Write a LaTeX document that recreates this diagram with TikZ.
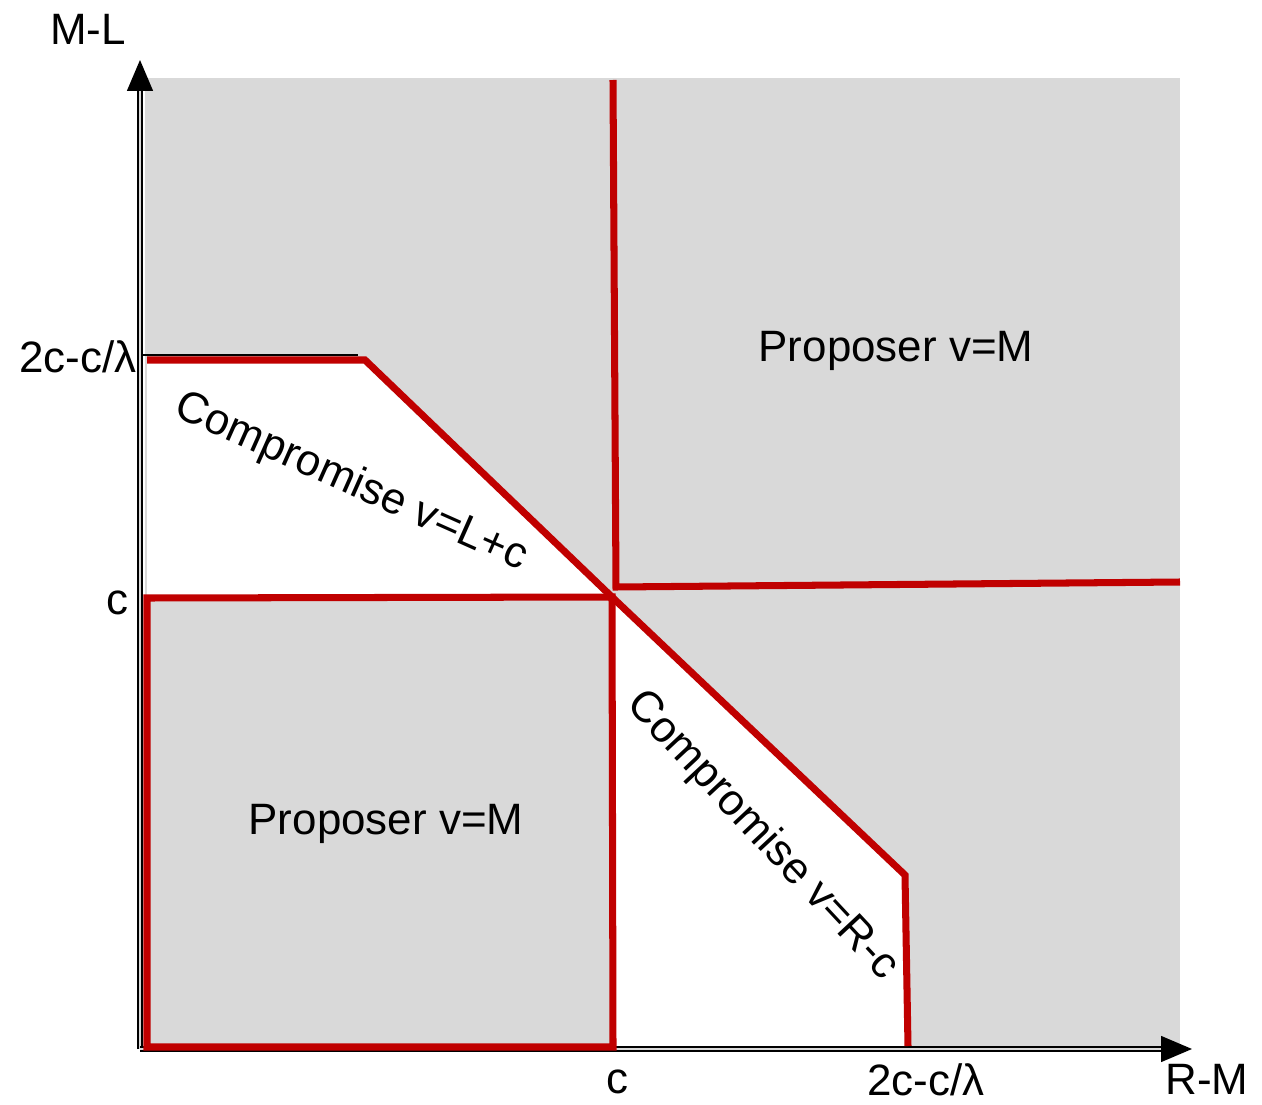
\documentclass[tikz,border=0pt]{standalone}
\usepackage{fontspec}
\setmainfont{Liberation Sans}
\usetikzlibrary{arrows.meta}
\definecolor{regiongray}{HTML}{D9D9D9}
\definecolor{boundred}{HTML}{C00000}
\begin{document}
\begin{tikzpicture}[
    x = 0.02cm,
    y = -0.02cm,
    >={Triangle[length=6.2mm, width=5.2mm]},
    boundary/.style = {draw=boundred, line width=4pt, line join=miter},
    axis/.style = {->, draw=black, line width=0.8pt, double=regiongray,
              double distance=1.4pt},
    txt/.style = {font=\fontsize{25}{30}\selectfont, inner sep=0pt},
    ]
\useasboundingbox (0,0) rectangle (1262,1105);

\coordinate (O) at (140,1049);
\coordinate (ytip) at (140,60);
\coordinate (xtip) at (1192,1049);
\coordinate (topL) at (147,360);
\coordinate (kinkL) at (365,360);
\coordinate (mid) at (612,597);
\coordinate (kinkR) at (905,875);
\coordinate (footR) at (908,1046);
\coordinate (cL) at (147,598);
\coordinate (cB) at (613,1047);
\coordinate (corner) at (147,1047);
\coordinate (vTop) at (613,80);
\coordinate (bend) at (616,587);
\coordinate (hEnd) at (1180,582);

% regions
\fill[regiongray] (145,78) rectangle (1180,1046);
\fill[white] (topL) -- (kinkL) -- (mid) -- (cL) -- cycle;
\fill[white] (mid) -- (kinkR) -- (footR) -- (cB) -- cycle;

\draw [axis] (O) -- (ytip);
\draw [axis] (O) -- (xtip);
\draw [black, line width=0.8pt] (143,355) -- (358,355);

% boundaries
\draw [boundary] (topL) -- (kinkL) -- (mid) -- (kinkR) -- (footR);
\draw [boundary] (cL) -- (mid) -- (cB) -- (corner) -- cycle;
\draw [boundary] (vTop) -- (bend) -- (hEnd);

\node [txt] (ylabel) at (88,29) {M-L};
\node [txt] (xlabel) at (1207,1079) {R-M};
\node [txt, anchor=east] (ytick2) at (137,357) {2c-c/λ};
\node [txt] (ytick1) at (117,603) {c};
\node [txt] (xtick1) at (617,1082) {c};
\node [txt] (xtick2) at (926,1080) {2c-c/λ};

\node [txt] (propUp) at (896,351) {Proposer v=M};
\node [txt] (propLow) at (386,824) {Proposer v=M};
\node [txt, rotate=-24] (compL) at (351,483) {Compromise v=L+c};
\node [txt, rotate=-47] (compR) at (762,836) {Compromise v=R-c};

\end{tikzpicture}
\end{document}
